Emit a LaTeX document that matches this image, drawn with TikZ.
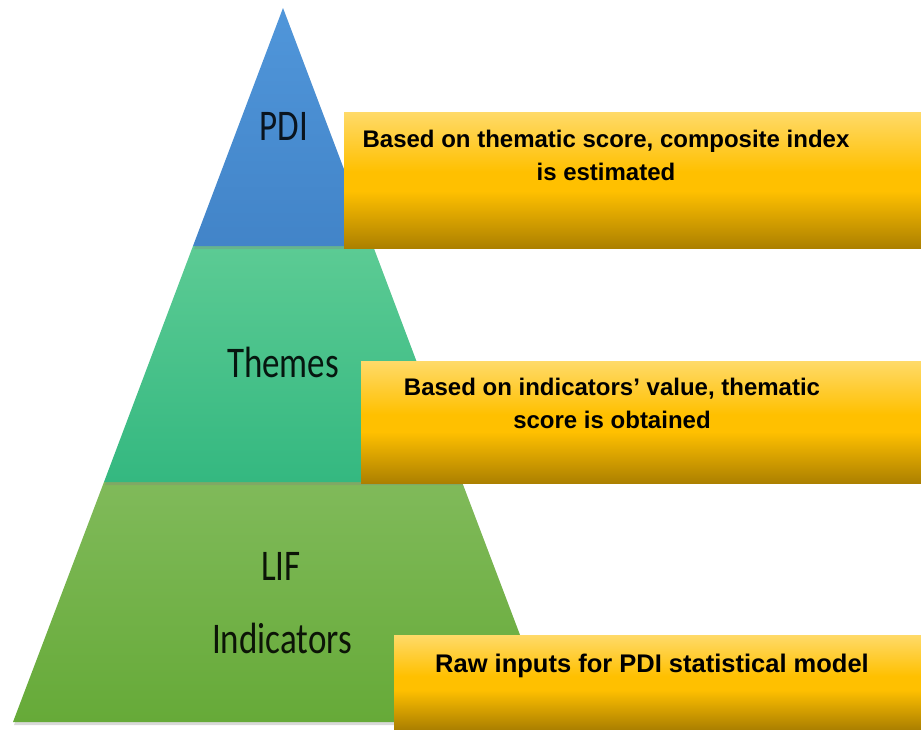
\documentclass[tikz,border=0pt]{standalone}
\usepackage{fontspec}
\setmainfont{Liberation Sans}
\newfontfamily\tierfont{Carlito}
\usetikzlibrary{shadows}

\definecolor{pdiblue}{RGB}{80,150,218}
\definecolor{pdibluedk}{RGB}{66,132,200}
\definecolor{themegreen}{RGB}{92,203,148}
\definecolor{themegreendk}{RGB}{52,184,128}
\definecolor{lifgreen}{RGB}{128,186,90}
\definecolor{lifgreendk}{RGB}{102,170,56}
\definecolor{boxtop}{RGB}{255,218,105}
\definecolor{boxmid}{RGB}{255,192,0}
\definecolor{boxbot}{RGB}{172,128,0}

% gold bar: dark at the bottom, bright just under the middle, pale at the top
\pgfdeclareverticalshading{goldbar}{100bp}{color(0bp)=(boxbot); color(25bp)=(boxbot);
	color(46bp)=(boxmid); color(53bp)=(boxmid); color(75bp)=(boxtop); color(100bp)=(boxtop)}

\newcommand{\tall}[1]{\scalebox{1}[1.25]{#1}}

\begin{document}
\begin{tikzpicture}[x=1pt,y=-1pt,
	tier/.style={drop shadow={opacity=.3,shadow xshift=1pt,shadow yshift=-3pt}},
	tierlabel/.style={inner sep=0pt,anchor=base,font=\tierfont\fontsize{35}{40}\selectfont},
	notebox/.style={shading=goldbar},
	notetext/.style={inner sep=0pt,anchor=north,align=center,font=\bfseries\fontsize{24}{33}\selectfont}]

\useasboundingbox (0,0) rectangle (921,729);

% Pyramid corners
\coordinate (apex) at (283,8);
\coordinate (l1) at (193,246);
\coordinate (r1) at (373,246);
\coordinate (l2) at (104,482);
\coordinate (r2) at (462,482);
\coordinate (l3) at (13,722);
\coordinate (r3) at (553,722);

% Tiers, bottom first
\shade[tier,top color=lifgreen,bottom color=lifgreendk] (l2) -- (l3) -- (r3) -- (r2) -- cycle;
\shade[tier,top color=themegreen,bottom color=themegreendk] (l1) -- (l2) -- (r2) -- (r1) -- cycle;
\shade[tier,top color=pdiblue,bottom color=pdibluedk] (apex) -- (l1) -- (r1) -- cycle;

% Tier labels
\node[tierlabel,text=pdibluedk!15!black] (pdi) at (284,140) {\tall{PDI}};
\node[tierlabel,text=themegreendk!12!black] (themes) at (283,377) {\tall{Themes}};
\node[tierlabel,text=lifgreendk!12!black] (lif) at (281,580) {\tall{LIF}};
\node[tierlabel,text=lifgreendk!12!black] (indicators) at (282,653) {\tall{Indicators}};

% Note boxes
\shade[notebox] (344,112) rectangle (921,248);
\shade[notebox] (361,361) rectangle (921,483);
\shade[notebox] (394,635) rectangle (921,729);

\node[notetext] (note1) at (606,129.5) {Based on thematic score, composite index\\is estimated};
\node[notetext] (note2) at (612,377.5) {Based on indicators’ value, thematic\\score is obtained};
\node[notetext,font=\bfseries\fontsize{25.5}{33}\selectfont] (note3) at (652,653.5) {Raw inputs for PDI statistical model};
\end{tikzpicture}
\end{document}
